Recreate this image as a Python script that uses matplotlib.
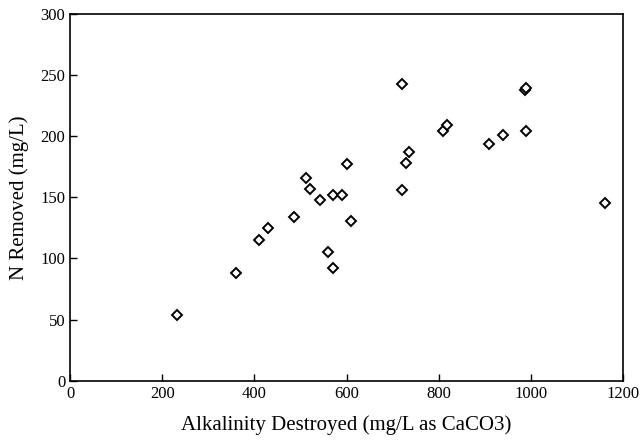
import matplotlib.pyplot as plt

# Alkalinity destroyed (mg/L as CaCO3) vs N removed (mg/L)
alkalinity = [231, 361, 411, 430, 486, 512, 521, 542, 560, 570, 570, 589, 600, 610,
              720, 720, 730, 735, 810, 818, 910, 940, 988, 990, 990, 1160]
n_removed = [54, 88, 115, 125, 134, 166, 157, 148, 105, 92, 152, 152, 177, 131,
             243, 156, 178, 187, 204, 209, 194, 201, 238, 239, 204, 145]

plt.rcParams['font.family'] = ['Liberation Serif', 'DejaVu Serif']

fig = plt.figure(figsize=(6.43, 4.48), dpi=100)
ax = fig.add_axes([0.109, 0.150, 0.860, 0.819])

ax.plot(alkalinity, n_removed, linestyle='none', marker='D', markersize=5.5,
        markerfacecolor='white', markeredgecolor='black', markeredgewidth=1.4)

ax.set_xlim(0, 1200)
ax.set_ylim(0, 300)
ax.set_xticks([0, 200, 400, 600, 800, 1000, 1200])
ax.set_yticks([0, 50, 100, 150, 200, 250, 300])
ax.tick_params(direction='in', length=5, labelsize=12, width=1)
for s in ax.spines.values():
    s.set_linewidth(1.2)

ax.set_xlabel('Alkalinity Destroyed (mg/L as CaCO3)', fontsize=15, labelpad=10)
ax.set_ylabel('N Removed (mg/L)', fontsize=15, labelpad=8)

fig.savefig('out.png', dpi=100)
